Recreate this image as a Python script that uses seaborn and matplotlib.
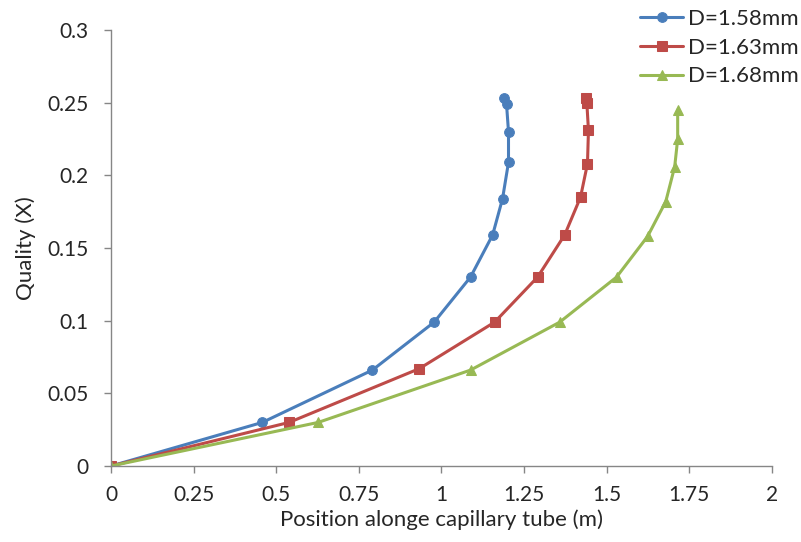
import numpy as np
import matplotlib.pyplot as plt
import seaborn as sns
import pandas as pd

# Valores
x_158 = [0, 0.458, 0.791, 0.978, 1.088, 1.155, 1.185, 1.203, 1.203, 1.197, 1.190]
y_158 = [0, 0.030, 0.066, 0.099, 0.130, 0.159, 0.184, 0.209, 0.230, 0.249, 0.253]

x_163 = [0, 0.539, 0.933, 1.161, 1.291, 1.373, 1.421, 1.442, 1.445, 1.440, 1.439]
y_163 = [0, 0.030, 0.067, 0.099, 0.130, 0.159, 0.185, 0.208, 0.231, 0.250, 0.253]

x_168 = [0, 0.627, 1.088, 1.358, 1.530, 1.624, 1.679, 1.706, 1.715, 1.715]
y_168 = [0, 0.030, 0.066, 0.099, 0.130, 0.158, 0.182, 0.206, 0.225, 0.245]

labels = ['D=1.58mm', 'D=1.63mm', 'D=1.68mm']
colors = ['#4A7EBB', '#BE4B48', '#98B954']
markers = ['o', 's', '^']
msizes = [7, 7.5, 7.5]

sns.set_style('white')
plt.rcParams['font.family'] = ['Lato', 'DejaVu Sans']

fig = plt.figure(figsize=(8.01, 5.42), dpi=100)
ax = fig.add_axes([0.1386, 0.1402, 0.825, 0.8044])

series = [(x_158, y_158), (x_163, y_163), (x_168, y_168)]
for (xs, ys), lab, col, mk, ms in zip(series, labels, colors, markers, msizes):
    df = pd.DataFrame({'x': xs, 'y': ys})
    sns.lineplot(data=df, x='x', y='y', sort=False, estimator=None, ax=ax,
                 color=col, lw=2.2, marker=mk, markersize=ms,
                 markeredgecolor=col, label=lab)

ax.set_xlim(0, 2)
ax.set_ylim(0, 0.3)
ax.set_xticks(np.arange(0, 2.01, 0.25))
ax.set_xticklabels(['0', '0.25', '0.5', '0.75', '1', '1.25', '1.5', '1.75', '2'])
ax.set_yticks(np.arange(0, 0.301, 0.05))
ax.set_yticklabels(['0', '0.05', '0.1', '0.15', '0.2', '0.25', '0.3'])

for s in ['top', 'right']:
    ax.spines[s].set_visible(False)
for s in ['left', 'bottom']:
    ax.spines[s].set_color('#868686')
    ax.spines[s].set_linewidth(1.0)
ax.tick_params(axis='both', which='major', length=5, width=1, color='#868686',
               labelsize=15, labelcolor='#262626', direction='out',
               bottom=True, left=True)
ax.tick_params(axis='y', pad=11)
ax.tick_params(axis='x', pad=9)

ax.set_xlabel('Position alonge capillary tube (m)', fontsize=16, color='#262626', labelpad=3)
ax.set_ylabel('Quality (X)', fontsize=16, color='#262626', labelpad=8)

leg = ax.legend(loc='upper left', bbox_to_anchor=(0.799, 0.984), bbox_transform=fig.transFigure,
                frameon=False, fontsize=16, handlelength=1.95, handletextpad=0.2,
                labelspacing=0.4, borderaxespad=0, borderpad=0)
for t in leg.get_texts():
    t.set_color('#262626')

fig.savefig('out.png', dpi=100)
